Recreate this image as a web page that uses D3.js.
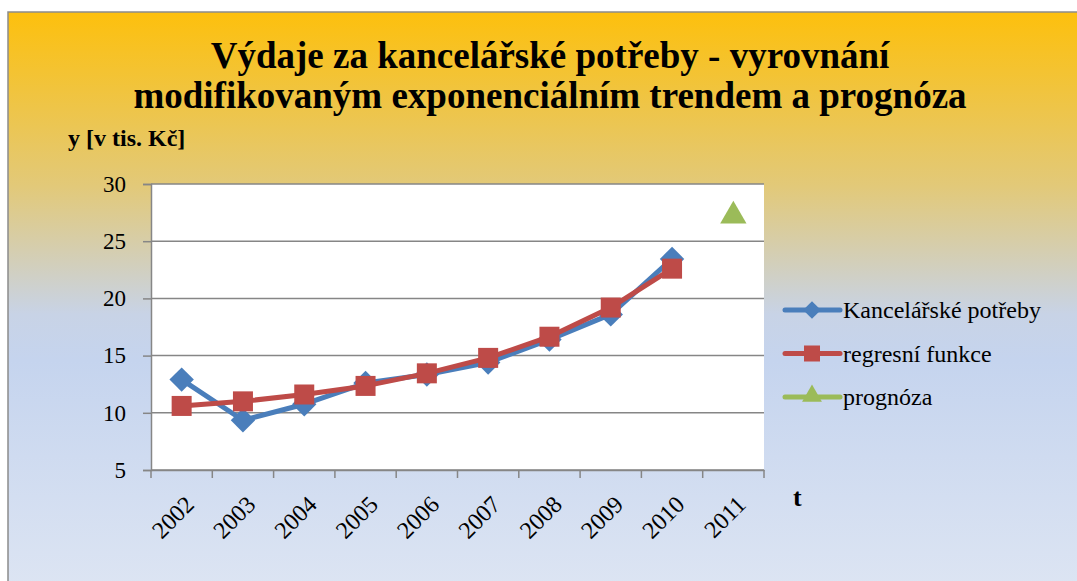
<!DOCTYPE html>
<html>
<head>
<meta charset="utf-8">
<script src="https://cdn.jsdelivr.net/npm/d3@7"></script>
<style>
  body { margin: 0; background: #fff; }
</style>
</head>
<body>
<svg width="1077" height="581"></svg>
<script>
// data
var years = ["2002", "2003", "2004", "2005", "2006", "2007", "2008", "2009", "2010", "2011"];
var vydaje = [12.9, 9.35, 10.75, 12.6, 13.35, 14.4, 16.4, 18.6, 23.45, null];
var regrese = [10.6, 11.0, 11.6, 12.35, 13.45, 14.8, 16.65, 19.2, 22.6, null];
var prognoza = [null, null, null, null, null, null, null, null, null, 27.3];
var yTicks = [5, 10, 15, 20, 25, 30];

var FONT = "'Liberation Serif', 'DejaVu Serif', serif";

var svg = d3.select("svg");

// background gradient of the chart area
var defs = svg.append("defs");
var grad = defs.append("linearGradient")
    .attr("id", "bg")
    .attr("x1", 0).attr("y1", 0).attr("x2", 0).attr("y2", 1);
grad.append("stop").attr("offset", "0%").attr("stop-color", "#fdc00d");
grad.append("stop").attr("offset", "30%").attr("stop-color", "#e2c979");
grad.append("stop").attr("offset", "52%").attr("stop-color", "#c8d3e6");
grad.append("stop").attr("offset", "60%").attr("stop-color", "#c5d4ee");
grad.append("stop").attr("offset", "100%").attr("stop-color", "#dde5f3");

svg.append("rect")
    .attr("x", 8).attr("y", 12)
    .attr("width", 1077).attr("height", 581)
    .attr("fill", "url(#bg)")
    .attr("stroke", "#8c8c8c")
    .attr("stroke-width", 1.5);

var margin = {left: 151, right: 764, top: 184, bottom: 470};

var x = d3.scaleBand()
    .domain(years)
    .range([margin.left, margin.right]);

var y = d3.scaleLinear()
    .domain([5, 30])
    .range([margin.bottom, margin.top]);

// keep the point index with each value
function points(arr) {
    return arr.map(function (v, i) { return {i: i, v: v}; })
        .filter(function (d) { return d.v != null; });
}
var cx = function (i) { return x(years[i]) + x.bandwidth() / 2; };

// plot area
svg.append("rect")
    .attr("x", margin.left).attr("y", margin.top)
    .attr("width", margin.right - margin.left)
    .attr("height", margin.bottom - margin.top)
    .attr("fill", "#fff");

// gridlines
svg.append("g")
    .selectAll("line")
    .data(yTicks)
    .enter().append("line")
    .attr("x1", margin.left).attr("x2", margin.right)
    .attr("y1", function (d) { return y(d); })
    .attr("y2", function (d) { return y(d); })
    .attr("stroke", "#868686")
    .attr("stroke-width", 1.5);

// y axis
var yAxis = svg.append("g")
    .attr("transform", "translate(" + margin.left + ",0)")
    .call(d3.axisLeft(y).tickValues(yTicks).tickSize(8).tickPadding(17));
yAxis.attr("font-family", FONT);
yAxis.select(".domain").attr("stroke", "#868686").attr("stroke-width", 1.5);
yAxis.selectAll(".tick line").attr("stroke", "#868686").attr("stroke-width", 1.5);
yAxis.selectAll("text")
    .attr("fill", "#000")
    .style("font-family", FONT)
    .style("font-size", "23px");

// x axis
var xAxis = svg.append("g")
    .attr("transform", "translate(0," + margin.bottom + ")")
    .call(d3.axisBottom(x).tickSize(0));
xAxis.attr("font-family", FONT);
xAxis.select(".domain").attr("stroke", "#868686").attr("stroke-width", 1.5);
xAxis.selectAll(".tick text").remove();
xAxis.selectAll(".tick line").remove();

var bounds = years.map(function (d) { return x(d); }).concat([x(years[years.length - 1]) + x.bandwidth()]);
xAxis.selectAll(".bound")
    .data(bounds)
    .enter().append("line")
    .attr("class", "bound")
    .attr("x1", function (d) { return d; })
    .attr("x2", function (d) { return d; })
    .attr("y1", 0).attr("y2", 8)
    .attr("stroke", "#868686")
    .attr("stroke-width", 1.5);

xAxis.selectAll(".lbl")
    .data(years)
    .enter().append("text")
    .attr("class", "lbl")
    .attr("transform", function (d) {
        return "translate(" + (x(d) + x.bandwidth() / 2 + 8) + ",30) rotate(-45)";
    })
    .attr("text-anchor", "end")
    .attr("dy", "0.35em")
    .attr("fill", "#000")
    .style("font-family", FONT)
    .style("font-size", "24px")
    .text(function (d) { return d; });

// series
var line = d3.line()
    .x(function (d) { return cx(d.i); })
    .y(function (d) { return y(d.v); });

svg.append("path")
    .datum(points(vydaje))
    .attr("d", line)
    .attr("fill", "none")
    .attr("stroke", "#4a7ebb")
    .attr("stroke-width", 5)
    .attr("stroke-linejoin", "round");

svg.append("g")
    .selectAll("path")
    .data(points(vydaje))
    .enter().append("path")
    .attr("d", d3.symbol().type(d3.symbolDiamond2).size(380))
    .attr("transform", function (d) { return "translate(" + cx(d.i) + "," + y(d.v) + ")"; })
    .attr("fill", "#4a7ebb");

svg.append("path")
    .datum(points(regrese))
    .attr("d", line)
    .attr("fill", "none")
    .attr("stroke", "#be4b48")
    .attr("stroke-width", 5)
    .attr("stroke-linejoin", "round");

svg.append("g")
    .selectAll("rect")
    .data(points(regrese))
    .enter().append("rect")
    .attr("x", function (d) { return cx(d.i) - 10; })
    .attr("y", function (d) { return y(d.v) - 10; })
    .attr("width", 20).attr("height", 20)
    .attr("fill", "#be4b48");

svg.append("g")
    .selectAll("path")
    .data(points(prognoza))
    .enter().append("path")
    .attr("d", d3.symbol().type(d3.symbolTriangle).size(300))
    .attr("transform", function (d) { return "translate(" + cx(d.i) + "," + (y(d.v) + 1) + ")"; })
    .attr("fill", "#9bbb59");

// titles
var title = svg.append("text")
    .attr("text-anchor", "middle")
    .style("font-family", FONT)
    .style("font-size", "37px")
    .style("font-weight", "bold");
title.append("tspan").attr("x", 550).attr("y", 68).text("Výdaje za kancelářské potřeby - vyrovnání");
title.append("tspan").attr("x", 550).attr("y", 108).text("modifikovaným exponenciálním trendem a prognóza");

svg.append("text")
    .attr("x", 68).attr("y", 146)
    .style("font-family", FONT)
    .style("font-size", "24px")
    .style("font-weight", "bold")
    .text("y [v tis. Kč]");

svg.append("text")
    .attr("x", 793).attr("y", 506)
    .style("font-family", FONT)
    .style("font-size", "26px")
    .style("font-weight", "bold")
    .text("t");

// legend
var legendData = [
    {name: "Kancelářské potřeby", color: "#4a7ebb", shape: "diamond"},
    {name: "regresní funkce", color: "#be4b48", shape: "square"},
    {name: "prognóza", color: "#9bbb59", shape: "triangle"}
];

var legend = svg.append("g")
    .attr("transform", "translate(785,310)");

legendData.forEach(function (d, i) {
    var row = legend.append("g")
        .attr("transform", "translate(0," + (i * 43.5) + ")");
    row.append("line")
        .attr("x1", 0).attr("x2", 55)
        .attr("stroke", d.color)
        .attr("stroke-width", 5)
        .attr("stroke-linecap", "round");
    if (d.shape == "diamond") {
        row.append("path")
            .attr("d", d3.symbol().type(d3.symbolDiamond2).size(200))
            .attr("transform", "translate(27,0)")
            .attr("fill", d.color);
    } else if (d.shape == "square") {
        row.append("rect")
            .attr("x", 19).attr("y", -8).attr("width", 16).attr("height", 16)
            .attr("fill", d.color);
    } else {
        row.append("path")
            .attr("d", d3.symbol().type(d3.symbolTriangle).size(170))
            .attr("transform", "translate(27,-1)")
            .attr("fill", d.color);
    }
    row.append("text")
        .attr("x", 58)
        .attr("dy", "0.35em")
        .style("font-family", FONT)
        .style("font-size", "24px")
        .text(d.name);
});
</script>
</body>
</html>
